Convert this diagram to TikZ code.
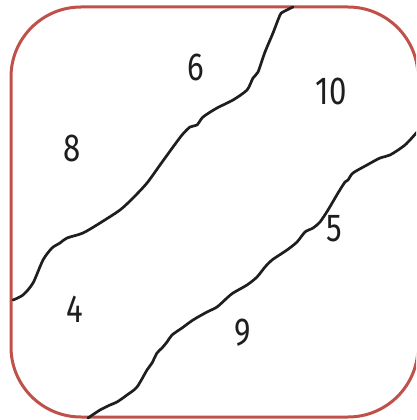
\documentclass[tikz,border=0pt]{standalone}
\usepackage{fontspec}
\setmainfont{Fira Sans}
\definecolor{frame}{RGB}{192,80,74}
\definecolor{ink}{RGB}{30,30,30}
\begin{document}
\begin{tikzpicture}[x=1pt,y=-1pt,
  border/.style={draw=frame,line width=3pt,rounded corners=70pt},
  river/.style={draw=ink,line width=2.7pt,line cap=round,line join=round},
  num/.style={text=ink,font=\fontsize{39}{39}\selectfont,inner sep=0pt}]
\useasboundingbox (0,0) rectangle (416,420);
\clip (0,0) rectangle (416,420);
\draw[border] (11,7) rectangle (418,417);
\draw[river] plot[smooth,tension=0.45] coordinates {
 (293,7) (283,12) (280,15) (273,33) (265,52) (258,72) (253,78) (247,90)
 (233,100) (217,108) (203,117) (197,125) (190,127) (182,135) (173,147)
 (160,165) (147,183) (133,198) (120,210) (100,223) (83,233) (67,238)
 (60,243) (52,248) (43,260) (33,283) (23,295) (13,300)};
\draw[river] plot[smooth,tension=0.45] coordinates {
 (418,131) (405,145) (390,155) (380,158) (367,165) (353,173) (348,180)
 (345,182) (338,193) (328,210) (320,222) (313,228) (305,232) (297,242)
 (287,250) (272,260) (265,267) (257,277) (247,285) (233,293) (227,298)
 (217,307) (207,312) (193,320) (182,328) (172,335) (167,342) (162,348)
 (157,353) (152,363) (147,370) (137,387) (127,395) (117,402) (110,405)
 (100,410) (88,418)};
\node[num] (n6) at (196,67) {\scalebox{0.8}[1]{6}};
\node[num] (n10) at (331,91) {\scalebox{0.8}[1]{10}};
\node[num] (n8) at (72,148) {\scalebox{0.8}[1]{8}};
\node[num] (n5) at (334,229) {\scalebox{0.8}[1]{5}};
\node[num] (n4) at (75,309) {\scalebox{0.8}[1]{4}};
\node[num] (n9) at (243,333) {\scalebox{0.8}[1]{9}};
\end{tikzpicture}
\end{document}
